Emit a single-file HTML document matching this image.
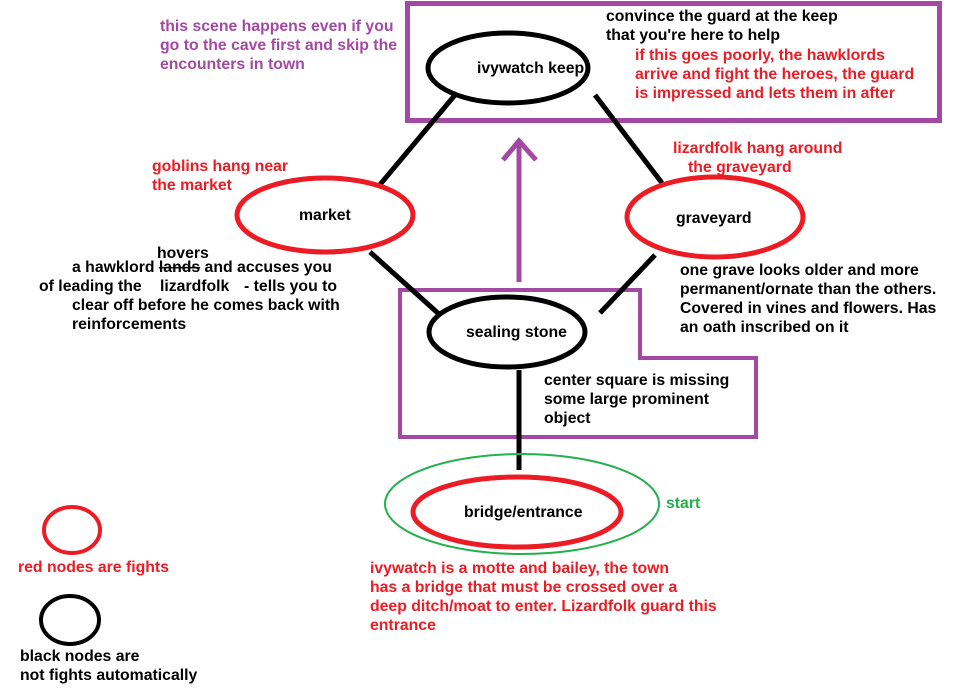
<!DOCTYPE html>
<html><head><meta charset="utf-8"><style>
body{margin:0;background:#fff;}
svg{display:block;}
text{font-family:"Liberation Sans",Arial,sans-serif;font-weight:bold;font-size:15.8px;}
.r{fill:#ed1c24}.p{fill:#a349a4}.k{fill:#000}.g{fill:#22b14c}
</style></head><body>
<svg width="965" height="699" viewBox="0 0 965 699" xmlns="http://www.w3.org/2000/svg">
<rect x="0" y="0" width="965" height="699" fill="#fff"/>
<rect x="407.5" y="3.5" width="532" height="117" fill="none" stroke="#a349a4" stroke-width="5"/>
<polygon points="400,290 640,290 640,358 756,358 756,437 400,437" fill="none" stroke="#a349a4" stroke-width="4"/>
<g stroke="#000" stroke-width="5" fill="none">
<line x1="455" y1="95" x2="378" y2="187"/>
<line x1="595" y1="95" x2="662" y2="183"/>
<line x1="370" y1="252" x2="440" y2="315"/>
<line x1="655" y1="255" x2="600" y2="313"/>
<line x1="519" y1="370" x2="519" y2="470"/>
</g>
<g stroke="#a349a4" stroke-width="5" fill="none">
<line x1="519" y1="282" x2="519" y2="142"/>
<polyline points="503,160 519,141 536,160"/>
</g>
<ellipse cx="508" cy="68" rx="80" ry="35" fill="#fff" stroke="#000" stroke-width="5"/>
<ellipse cx="325" cy="215" rx="88" ry="37" fill="#fff" stroke="#ed1c24" stroke-width="5"/>
<ellipse cx="715" cy="217" rx="88" ry="40" fill="#fff" stroke="#ed1c24" stroke-width="5"/>
<ellipse cx="507" cy="332" rx="78" ry="35" fill="#fff" stroke="#000" stroke-width="5"/>
<ellipse cx="522" cy="504" rx="137" ry="50" fill="none" stroke="#22b14c" stroke-width="2"/>
<ellipse cx="517" cy="512" rx="104" ry="35" fill="#fff" stroke="#ed1c24" stroke-width="5"/>
<ellipse cx="72" cy="530" rx="28" ry="23" fill="#fff" stroke="#ed1c24" stroke-width="4"/>
<ellipse cx="70" cy="620" rx="29" ry="24" fill="#fff" stroke="#000" stroke-width="4"/>
<text class="k" x="477" y="73">ivywatch keep</text>
<text class="k" x="299" y="220">market</text>
<text class="k" x="676" y="223">graveyard</text>
<text class="k" x="466" y="337">sealing stone</text>
<text class="k" x="464" y="517">bridge/entrance</text>
<text class="g" x="666" y="508">start</text>
<text class="p" x="160" y="31">this scene happens even if you</text>
<text class="p" x="160" y="50">go to the cave first and skip the</text>
<text class="p" x="160" y="69">encounters in town</text>
<text class="k" x="606" y="21">convince the guard at the keep</text>
<text class="k" x="606" y="40">that you're here to help</text>
<text class="r" x="635" y="60">if this goes poorly, the hawklords</text>
<text class="r" x="635" y="79">arrive and fight the heroes, the guard</text>
<text class="r" x="635" y="98">is impressed and lets them in after</text>
<text class="r" x="152" y="171">goblins hang near</text>
<text class="r" x="152" y="190">the market</text>
<text class="r" x="673" y="153">lizardfolk hang around</text>
<text class="r" x="688" y="172">the graveyard</text>
<text class="k" x="157" y="258">hovers</text>
<text class="k" x="72" y="272">a hawklord <tspan text-decoration="line-through">lands</tspan> and accuses you</text>
<text class="k" x="39" y="291">of leading the</text>
<text class="k" x="160" y="291">lizardfolk</text>
<text class="k" x="244" y="291">- tells you to</text>
<text class="k" x="72" y="310">clear off before he comes back with</text>
<text class="k" x="72" y="329">reinforcements</text>
<text class="k" x="680" y="275">one grave looks older and more</text>
<text class="k" x="680" y="294">permanent/ornate than the others.</text>
<text class="k" x="680" y="313">Covered in vines and flowers. Has</text>
<text class="k" x="680" y="332">an oath inscribed on it</text>
<text class="k" x="544" y="385">center square is missing</text>
<text class="k" x="544" y="404">some large prominent</text>
<text class="k" x="544" y="423">object</text>
<text class="r" x="370" y="573">ivywatch is a motte and bailey, the town</text>
<text class="r" x="370" y="592">has a bridge that must be crossed over a</text>
<text class="r" x="370" y="611">deep ditch/moat to enter.  Lizardfolk guard this</text>
<text class="r" x="370" y="630">entrance</text>
<text class="r" x="18" y="572">red nodes are fights</text>
<text class="k" x="20" y="661">black nodes are</text>
<text class="k" x="20" y="680">not fights automatically</text>
</svg>
</body></html>
